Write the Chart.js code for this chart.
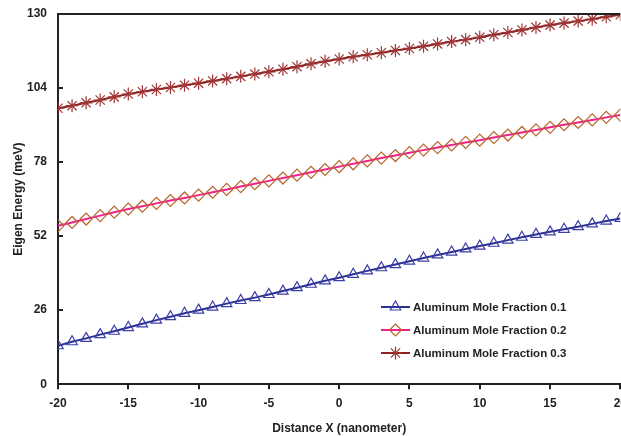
<!DOCTYPE html>
<html>
<head>
<meta charset="utf-8">
<script src="https://cdn.jsdelivr.net/npm/chart.js@4.4.1/dist/chart.umd.min.js"></script>
<style>
  html, body { margin: 0; padding: 0; background: #fff; overflow: hidden; }
  #wrap { width: 634px; height: 436px; }
</style>
</head>
<body>
<div id="wrap"><canvas id="energyChart"></canvas></div>
<script>
// x positions (nanometer)
const distances = [];
for (let x = -20; x <= 20; x++) distances.push(x);

const yTicks = [0, 26, 52, 78, 104, 130];
const xTicks = [-20, -15, -10, -5, 0, 5, 10, 15, 20];

const seriesNames = ["Aluminum Mole Fraction 0.1", "Aluminum Mole Fraction 0.2", "Aluminum Mole Fraction 0.3"];

// eigen energy (meV)
const fraction01 = [13.5, 14.9, 16.1, 17.4, 18.6, 19.9, 21.2, 22.5, 23.7, 24.9, 26.0,
                    27.1, 28.3, 29.4, 30.4, 31.5, 32.7, 33.9, 35.1, 36.3, 37.4,
                    38.6, 39.8, 40.9, 42.0, 43.2, 44.3, 45.4, 46.4, 47.5, 48.5,
                    49.5, 50.6, 51.6, 52.6, 53.5, 54.4, 55.3, 56.3, 57.3, 58.2];
const fraction02 = [55.6, 56.8, 58.0, 59.2, 60.4, 61.5, 62.5, 63.5, 64.5, 65.4, 66.4,
                    67.4, 68.4, 69.4, 70.4, 71.4, 72.4, 73.4, 74.4, 75.4, 76.4,
                    77.4, 78.4, 79.4, 80.3, 81.3, 82.2, 83.1, 84.0, 84.9, 85.7,
                    86.6, 87.5, 88.4, 89.3, 90.2, 91.1, 91.9, 92.8, 93.7, 94.5];
const fraction03 = [96.9, 97.8, 98.8, 99.8, 100.9, 101.9, 102.7, 103.5, 104.2, 105.0, 105.7,
                    106.5, 107.3, 108.1, 108.9, 109.7, 110.6, 111.5, 112.5, 113.4, 114.2,
                    115.0, 115.7, 116.4, 117.2, 117.9, 118.7, 119.5, 120.3, 121.0, 121.8,
                    122.7, 123.5, 124.4, 125.3, 126.1, 126.8, 127.5, 128.2, 129.0, 129.7];

const FONT = "'Liberation Sans', Arial, sans-serif";

function toPoints(values) {
    return values.map((v, i) => ({ x: distances[i], y: v }));
}

function lineDataset(label, values, lineColor, markerColor, style, radius) {
    return {
        label: label,
        data: toPoints(values),
        borderColor: lineColor,
        borderWidth: 2,
        pointStyle: style,
        pointRadius: radius,
        pointBorderColor: markerColor,
        pointBackgroundColor: "rgba(0,0,0,0)",
        pointBorderWidth: 1.2,
        tension: 0
    };
}

// top frame line, inward y ticks, legend with line and marker
const framePlugin = {
    id: "frame",
    afterDraw(chart) {
        const ctx = chart.ctx;
        const a = chart.chartArea;
        const yScale = chart.scales.y;
        ctx.save();
        ctx.strokeStyle = "#222";
        ctx.lineWidth = 2;
        ctx.beginPath();
        ctx.moveTo(a.left, a.top);
        ctx.lineTo(a.right, a.top);
        yTicks.forEach(v => {
            const py = Math.round(yScale.getPixelForValue(v));
            ctx.moveTo(a.left, py);
            ctx.lineTo(a.left + 5, py);
        });
        ctx.stroke();

        const lx = 381, tx = 413;
        const rows = [307, 330, 353];
        ctx.font = "bold 11.5px " + FONT;
        ctx.textBaseline = "middle";
        chart.data.datasets.forEach((ds, i) => {
            const y = rows[i];
            ctx.strokeStyle = ds.borderColor;
            ctx.lineWidth = 2;
            ctx.beginPath();
            ctx.moveTo(lx, y);
            ctx.lineTo(lx + 29, y);
            ctx.stroke();
            ctx.strokeStyle = ds.pointBorderColor;
            ctx.fillStyle = "rgba(0,0,0,0)";
            ctx.lineWidth = 1.2;
            Chart.helpers.drawPoint(ctx, { pointStyle: ds.pointStyle, radius: ds.pointRadius, borderWidth: 1.2 }, lx + 14.5, y);
            ctx.fillStyle = "#222";
            ctx.fillText(ds.label, tx, y + 1);
        });
        ctx.restore();
    }
};

new Chart(document.getElementById("energyChart"), {
    type: "line",
    data: {
        datasets: [
            lineDataset(seriesNames[0], fraction01, "#2b3192", "#3b3fa8", "triangle", 6),
            lineDataset(seriesNames[1], fraction02, "#f0208c", "#b8652a", "rectRot", 6),
            lineDataset(seriesNames[2], fraction03, "#8b2323", "#a03535", "star", 6.5)
        ]
    },
    options: {
        responsive: true,
        maintainAspectRatio: false,
        animation: false,
        layout: { padding: { top: 14, right: 0, left: 4, bottom: 0 } },
        plugins: {
            legend: { display: false },
            tooltip: { enabled: false }
        },
        scales: {
            x: {
                type: "linear",
                min: -20,
                max: 20,
                afterBuildTicks: (s) => { s.ticks = xTicks.map(v => ({ value: v })); },
                border: { color: "#222", width: 2 },
                grid: { drawOnChartArea: false, drawTicks: true, tickLength: 5, color: "#222", lineWidth: 2 },
                ticks: { color: "#222", font: { family: FONT, size: 12, weight: "bold" }, padding: 7, maxRotation: 0 },
                title: { display: true, text: "Distance X (nanometer)", color: "#222",
                         font: { family: FONT, size: 12, weight: "bold" }, padding: { top: 4, bottom: 0 } }
            },
            y: {
                min: 0,
                max: 130,
                afterBuildTicks: (s) => { s.ticks = yTicks.map(v => ({ value: v })); },
                afterFit: (s) => { s.width = 54; s.paddingTop = 0; s.paddingBottom = 0; },
                border: { color: "#222", width: 2 },
                grid: { drawOnChartArea: false, drawTicks: false },
                ticks: { color: "#222", font: { family: FONT, size: 12, weight: "bold" }, padding: 11 },
                title: { display: true, text: "Eigen Energy (meV)", color: "#222",
                         font: { family: FONT, size: 12, weight: "bold" }, padding: { top: 7, bottom: 0 } }
            }
        }
    },
    plugins: [framePlugin]
});
</script>
</body>
</html>
